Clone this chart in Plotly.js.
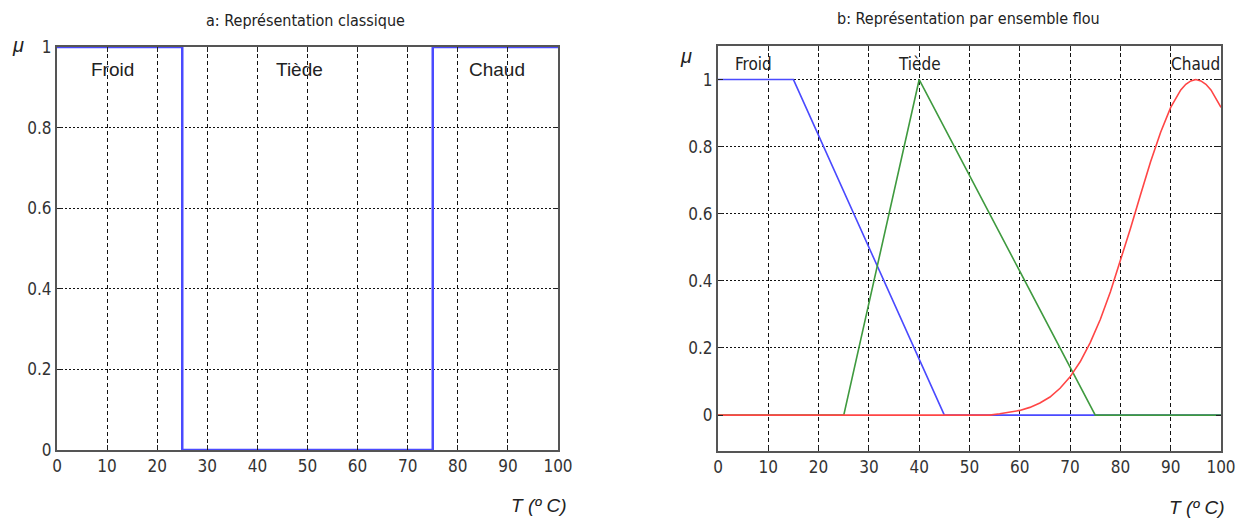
<!DOCTYPE html>
<html>
<head>
<meta charset="utf-8">
<script src="https://cdn.plot.ly/plotly-3.0.1.min.js"></script>
<style>
  html, body { margin: 0; padding: 0; background: #fff; }
  #chart { width: 1246px; height: 518px; }
</style>
</head>
<body>
<div id="chart"></div>
<script>
// a: classical (crisp) sets — one stepped outline for Froid / Tiède / Chaud
const classicT  = [0, 25, 25, 75, 75, 100];
const classicMu = [1, 1, 0, 0, 1, 1];

// b: fuzzy sets
const froidT  = [0, 15, 45, 100];
const froidMu = [1, 1, 0, 0];

const tiedeT  = [0, 25, 40, 75, 100];
const tiedeMu = [0, 0, 1, 0, 0];

const chaudT  = [0, 54, 56, 58, 60, 62, 64, 66, 68, 70, 72, 74, 76, 78, 80,
                 82, 84, 86, 88, 90, 92, 93, 94, 95, 96, 97, 98, 100];
const chaudMu = [0, 0, 0.004, 0.008, 0.014, 0.023, 0.036, 0.054, 0.08, 0.114,
                 0.159, 0.216, 0.285, 0.367, 0.458, 0.556, 0.657, 0.755, 0.843,
                 0.917, 0.969, 0.986, 0.996, 1.0, 0.996, 0.986, 0.969, 0.917];

// set labels and where they sit
const classicLabels = ['Froid', 'Tiède', 'Chaud'];
const classicLabelT = [11, 48.5, 87.8];
const fuzzyLabels   = ['Froid', 'Tiède', 'Chaud'];
const fuzzyLabelT   = [7, 40, 95];

const tTicks  = [0, 10, 20, 30, 40, 50, 60, 70, 80, 90, 100];
const muTicks = [0, 0.2, 0.4, 0.6, 0.8, 1];

const BLUE = '#4a4aff', GREEN = '#3f9a3f', RED = '#ff4545';
const NARROW = '"Liberation Sans Narrow", "DejaVu Sans Condensed", Arial, sans-serif';
const SANS = '"Liberation Sans", Arial, sans-serif';
const FRAME = '#555';
const GRID = '#111';

function xAxis(domain) {
  return {
    domain: domain, range: [0, 100], tickvals: tTicks,
    ticks: 'inside', ticklen: 5, tickcolor: '#222', tickwidth: 1,
    showline: true, linecolor: FRAME, linewidth: 2, mirror: 'ticks',
    showgrid: true, gridcolor: GRID, gridwidth: 1, griddash: '4px,3px',
    zeroline: false, fixedrange: true,
    tickfont: { family: NARROW, size: 17, color: '#333' }
  };
}
function yAxis(domain, range) {
  return {
    domain: domain, range: range, tickvals: muTicks,
    ticks: 'inside', ticklen: 5, tickcolor: '#222', tickwidth: 1,
    showline: true, linecolor: FRAME, linewidth: 2, mirror: 'ticks',
    showgrid: true, gridcolor: GRID, gridwidth: 1, griddash: '2px,2px',
    zeroline: false, fixedrange: true,
    tickfont: { family: NARROW, size: 17, color: '#333' }
  };
}

const traces = [
  { x: classicT, y: classicMu, xaxis: 'x', yaxis: 'y', mode: 'lines',
    line: { color: BLUE, width: 2.5 }, hoverinfo: 'skip' },
  { x: froidT, y: froidMu, xaxis: 'x2', yaxis: 'y2', mode: 'lines',
    line: { color: BLUE, width: 1.6 }, hoverinfo: 'skip' },
  { x: tiedeT, y: tiedeMu, xaxis: 'x2', yaxis: 'y2', mode: 'lines',
    line: { color: GREEN, width: 1.6 }, hoverinfo: 'skip' },
  { x: chaudT, y: chaudMu, xaxis: 'x2', yaxis: 'y2', mode: 'lines',
    line: { color: RED, width: 1.6 }, hoverinfo: 'skip' }
];

const annotations = [];
classicLabels.forEach((s, i) => annotations.push({
  xref: 'x', yref: 'y', x: classicLabelT[i], y: 0.943, text: s, showarrow: false,
  xanchor: 'center', yanchor: 'middle',
  font: { family: SANS, size: 19, color: '#222' }
}));
fuzzyLabels.forEach((s, i) => annotations.push({
  xref: 'x2', yref: 'y2', x: fuzzyLabelT[i], y: 1.047, text: s, showarrow: false,
  xanchor: 'center', yanchor: 'middle',
  font: { family: NARROW, size: 17, color: '#222' }
}));

function paperText(px, py, text, font) {
  annotations.push({
    xref: 'paper', yref: 'paper', x: px / 1246, y: 1 - py / 518, text: text,
    showarrow: false, xanchor: 'center', yanchor: 'middle', font: font
  });
}
paperText(305, 20, 'a: Représentation classique', { family: NARROW, size: 16, color: '#222' });
paperText(968, 18, 'b: Représentation par ensemble flou', { family: NARROW, size: 16, color: '#222' });
paperText(18, 45, '<i>μ</i>', { family: SANS, size: 20, color: '#222' });
paperText(686, 56, '<i>μ</i>', { family: SANS, size: 20, color: '#222' });
paperText(538, 505, '<i>T (º C)</i>', { family: SANS, size: 19, color: '#222' });
paperText(1196, 507, '<i>T (º C)</i>', { family: SANS, size: 19, color: '#222' });

const layout = {
  width: 1246, height: 518,
  margin: { l: 0, r: 0, t: 0, b: 0 },
  paper_bgcolor: '#fff', plot_bgcolor: '#fff',
  showlegend: false,
  xaxis:  Object.assign(xAxis([57 / 1246, 558 / 1246]), { anchor: 'y' }),
  yaxis:  Object.assign(yAxis([1 - 450 / 518, 1 - 47 / 518], [0, 1]), { anchor: 'x' }),
  xaxis2: Object.assign(xAxis([718 / 1246, 1221 / 1246]), { anchor: 'y2' }),
  yaxis2: Object.assign(yAxis([1 - 451 / 518, 1 - 46 / 518], [-0.107, 1.1]), { anchor: 'x2' }),
  annotations: annotations
};

Plotly.newPlot('chart', traces, layout, { displayModeBar: false, staticPlot: true });
</script>
</body>
</html>
